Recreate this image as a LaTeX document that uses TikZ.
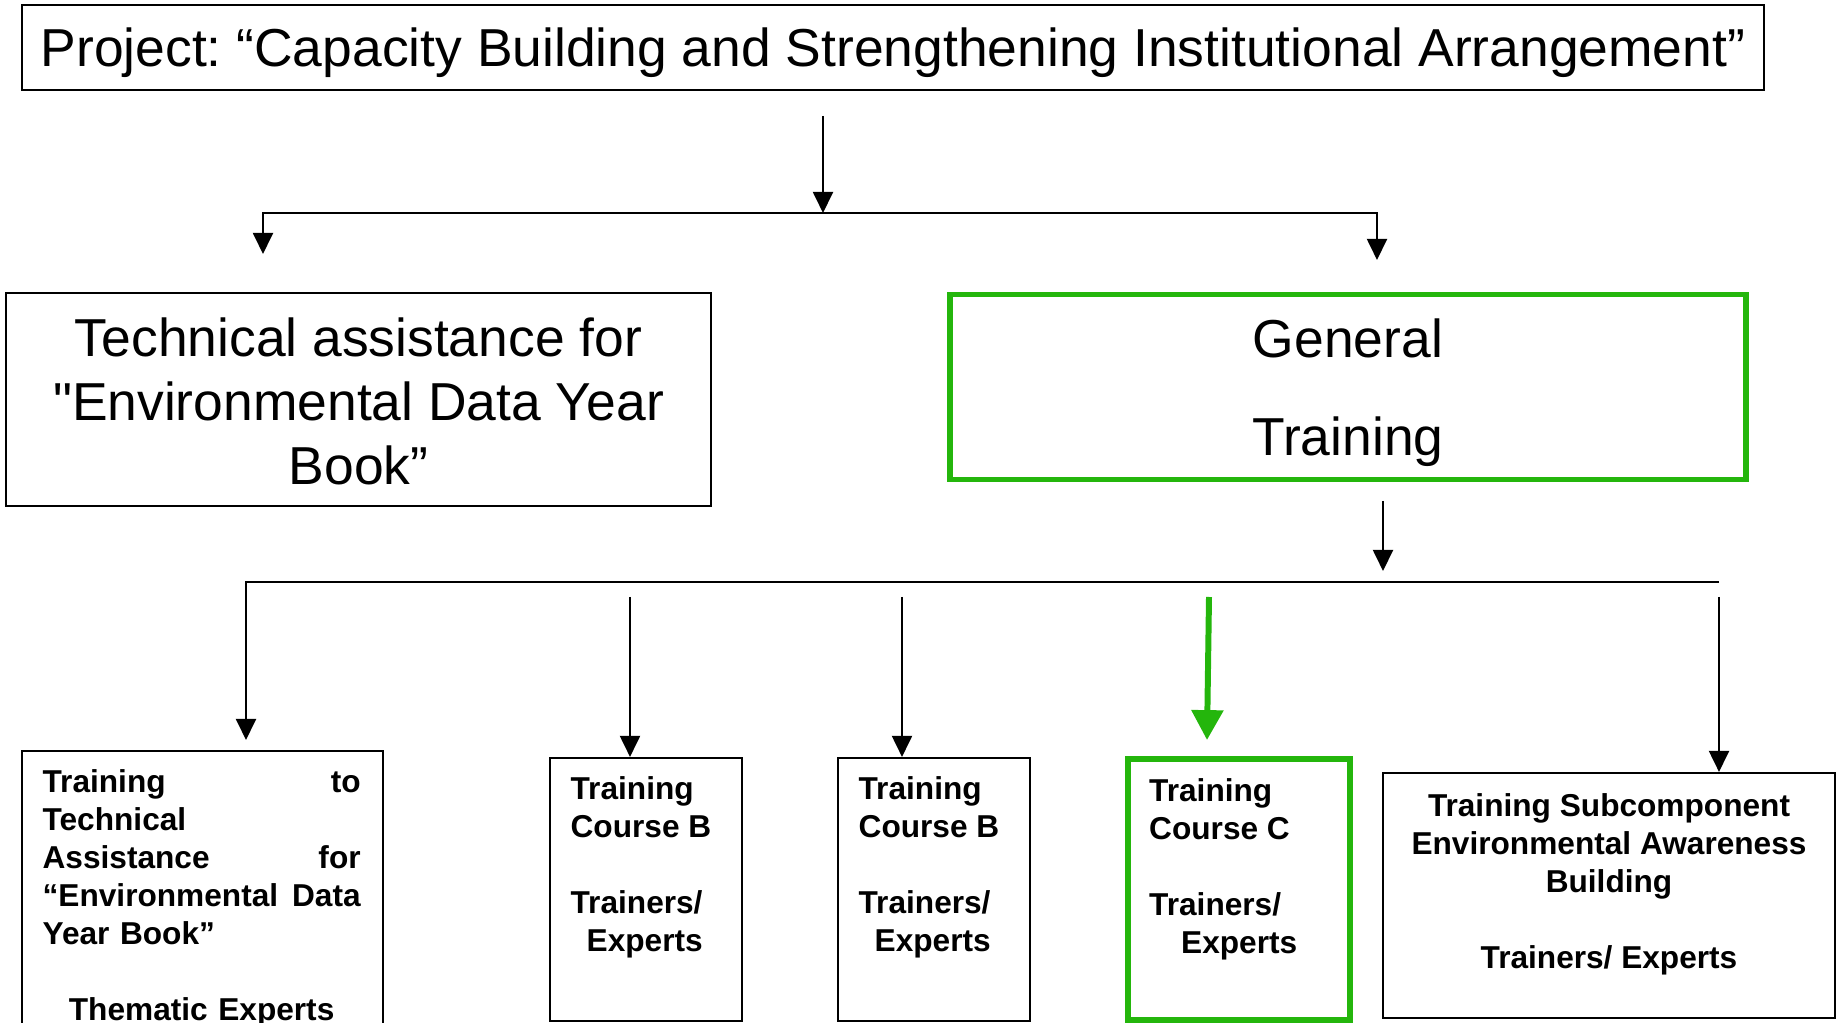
\documentclass[tikz,border=0pt]{standalone}
\usepackage{fontspec}
\setmainfont{Liberation Sans}
\frenchspacing
\usetikzlibrary{arrows.meta,positioning}
\definecolor{trgreen}{RGB}{36,182,12}
\newcommand{\bigfont}{\fontsize{15.2}{18.2}\selectfont}
\newcommand{\boxfont}{\bfseries\fontsize{9}{10.8}\selectfont}
\tikzset{
	plainbox/.style={draw, line width=0.6pt, inner sep=0pt},
	greenbox/.style={draw=trgreen, line width=1.7pt, inner sep=0pt},
	bigtext/.style={inner sep=0pt, font=\bigfont, align=center},
	boxtext/.style={inner sep=0pt, font=\boxfont, align=left},
	link/.style={->, line width=0.6pt},
	greenlink/.style={-{Triangle[length=8.5pt,width=8.8pt]}, draw=trgreen, line width=1.7pt}
}

\begin{document}
\begin{tikzpicture}[>={Triangle[length=6pt,width=5.7pt]}]

	% Fix the page and cut what runs off the bottom
	\useasboundingbox (0,0) rectangle (18.36,-10.23);
	\clip (0,0) rectangle (18.36,-10.23);

	% Draw the project box
	\node[plainbox, minimum width=17.42cm, minimum height=0.85cm] (project) at (8.93,-0.475) {};
	\node[bigtext, yshift=-0.057cm] (project text) at (project.center) {Project: “Capacity Building and Strengthening Institutional Arrangement”};

	% Draw the two components
	\node[plainbox, minimum width=7.05cm, minimum height=2.13cm] (techassist) at (3.585,-3.995) {};
	\node[bigtext, yshift=-0.023cm] (techassist text) at (techassist.center) {Technical assistance for\\\textquotedbl Environmental Data Year\\Book”};
	\node[greenbox, minimum width=7.96cm, minimum height=1.85cm] (general) at (13.48,-3.87) {};
	\node[bigtext, yshift=-0.059cm] (general text) at (general.center) {General\\[9.7pt]Training};

	% Split the project into its components
	\coordinate (project out) at (8.23,-1.16);
	\coordinate (split) at (8.23,-2.13);
	\coordinate (techassist in) at (2.63,-2.54);
	\coordinate (general in) at (13.77,-2.60);
	\draw[link] (project out) -- (split);
	\draw[link] (split) -| (techassist in);
	\draw[link] (split) -| (general in);

	% Draw the training boxes of the bottom row
	\node[plainbox, minimum width=3.61cm, minimum height=3.49cm] (techtraining) at (2.025,-9.255) {};
	\node[plainbox, minimum width=1.92cm, minimum height=2.63cm] (courseb) at (6.46,-8.895) {};
	\node[plainbox, minimum width=1.92cm, minimum height=2.63cm] (coursebb) at (9.34,-8.895) {};
	\node[greenbox, minimum width=2.22cm, minimum height=2.61cm] (coursec) at (12.39,-8.895) {};
	\node[plainbox, minimum width=4.52cm, minimum height=2.45cm] (awareness) at (16.09,-8.955) {};

	% Texts of the training boxes
	\node[boxtext, text width=3.18cm, below right=0.19cm and 0.21cm of techtraining.north west] (techtraining text) {Training \hfill to\\Technical\\Assistance \hfill for\\“Environmental \hfill Data\\Year Book”\\[10.8pt]\hfill Thematic Experts\hfill\null};
	\node[boxtext, below right=0.19cm and 0.21cm of courseb.north west] (courseb text) {Training\\Course B\\[10.8pt]Trainers/\\\hspace*{0.16cm}Experts};
	\node[boxtext, below right=0.19cm and 0.21cm of coursebb.north west] (coursebb text) {Training\\Course B\\[10.8pt]Trainers/\\\hspace*{0.16cm}Experts};
	\node[boxtext, below right=0.22cm and 0.235cm of coursec.north west] (coursec text) {Training\\Course C\\[10.8pt]Trainers/\\\hspace*{0.32cm}Experts};
	\node[boxtext, align=center, below=0.21cm of awareness.north] (awareness text) {Training Subcomponent\\Environmental Awareness\\Building\\[10.8pt]Trainers/ Experts};

	% Split general training into the courses
	\coordinate (general out) at (13.83,-5.01);
	\coordinate (bar in) at (13.83,-5.71);
	\coordinate (bar end) at (17.19,-5.82);
	\coordinate (techtraining in) at (2.46,-7.40);
	\draw[link] (general out) -- (bar in);
	\draw[link] (bar end) -| (techtraining in);

	% Arrows down to the courses
	\coordinate (courseb from) at (6.30,-5.97);
	\coordinate (coursebb from) at (9.02,-5.97);
	\coordinate (coursec from) at (12.09,-5.97);
	\coordinate (coursec in) at (12.07,-7.40);
	\coordinate (awareness from) at (17.19,-5.97);
	\draw[link] (courseb from) -- (courseb from |- courseb.north);
	\draw[link] (coursebb from) -- (coursebb from |- coursebb.north);
	\draw[greenlink] (coursec from) -- (coursec in);
	\draw[link] (awareness from) -- (awareness from |- awareness.north);

\end{tikzpicture}
\end{document}
